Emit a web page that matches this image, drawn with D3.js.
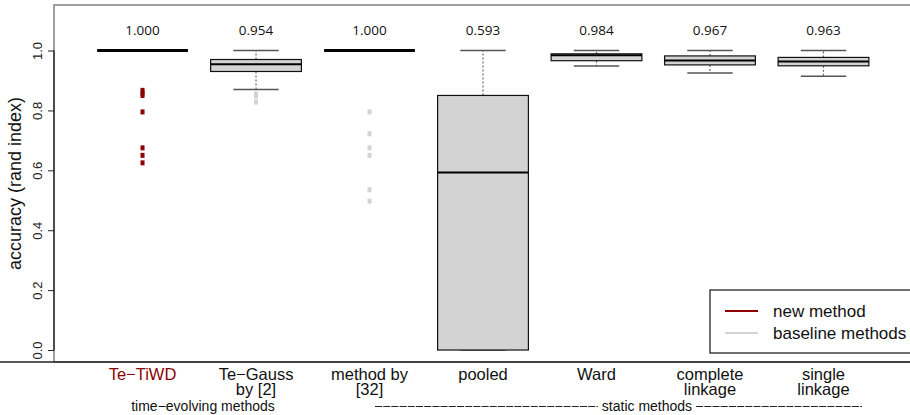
<!DOCTYPE html>
<html>
<head>
<meta charset="utf-8">
<script src="https://cdn.jsdelivr.net/npm/d3@7"></script>
<style>
  body { margin: 0; background: #fff; }
  svg { display: block; }
</style>
</head>
<body>
<svg id="chart"></svg>
<script>
// methods on the x axis, one box each
const methods = ["Te−TiWD", "Te−Gauss\nby [2]", "method by\n[32]", "pooled", "Ward", "complete\nlinkage", "single\nlinkage"];
const isNew = [true, false, false, false, false, false, false];
const medians = [1.000, 0.954, 1.000, 0.593, 0.984, 0.967, 0.963];
const q1 = [1.000, 0.930, 1.000, 0.000, 0.966, 0.952, 0.949];
const q3 = [1.000, 0.970, 1.000, 0.850, 0.989, 0.982, 0.977];
const whiskerLow = [1.000, 0.870, 1.000, 0.000, 0.948, 0.925, 0.914];
const whiskerHigh = [1.000, 1.000, 1.000, 1.000, 1.000, 1.000, 1.000];
const outliers = [
    [0.867, 0.858, 0.850, 0.795, 0.675, 0.650, 0.625],
    [0.855, 0.848, 0.828],
    [0.795, 0.722, 0.675, 0.650, 0.535, 0.497],
    [], [], [], []
];
const medianLabels = ["1.000", "0.954", "1.000", "0.593", "0.984", "0.967", "0.963"];
const yTicks = [0, 0.2, 0.4, 0.6, 0.8, 1.0];
const legendItems = ["new method", "baseline methods"];

const svgWidth = 910, svgHeight = 415;
const plot = { left: 54, right: 912, top: 5, bottom: 362 };
const newColor = "#8b0000", baseColor = "#d3d3d3";
const helv = "Liberation Sans, Arial, sans-serif";

const svg = d3.select("#chart")
    .attr("width", svgWidth)
    .attr("height", svgHeight);

const x = d3.scaleLinear()
    .domain([0.22, 7.78])
    .range([plot.left, plot.right]);

const y = d3.scaleLinear()
    .domain([-0.04, 1.152])
    .range([plot.bottom, plot.top]);

const boxW = (x(2) - x(1)) * 0.8;

// frame
svg.append("rect")
    .attr("x", plot.left).attr("y", plot.top)
    .attr("width", plot.right - plot.left).attr("height", plot.bottom - plot.top)
    .attr("fill", "none").attr("stroke", "#808080").attr("stroke-width", 1.5);

svg.append("line")
    .attr("x1", 0).attr("x2", svgWidth)
    .attr("y1", plot.bottom).attr("y2", plot.bottom)
    .attr("stroke", "#222").attr("stroke-width", 1.3);

// y axis
const yAxis = d3.axisLeft(y).tickValues(yTicks).tickSize(6).tickFormat(d3.format(".1f"));
const yg = svg.append("g")
    .attr("transform", "translate(" + plot.left + ",0)")
    .call(yAxis);
yg.select(".domain").remove();
yg.append("line")
    .attr("x1", 0).attr("x2", 0)
    .attr("y1", y(0)).attr("y2", y(1))
    .attr("stroke", "#222").attr("stroke-width", 1.3);
yg.selectAll(".tick line").attr("stroke", "#222").attr("stroke-width", 1);
yg.selectAll(".tick text")
    .attr("font-family", helv)
    .attr("font-size", 13)
    .attr("fill", "#222")
    .attr("x", null).attr("dy", null)
    .attr("text-anchor", "middle")
    .attr("transform", "translate(-12,0) rotate(-90)");

svg.append("text")
    .attr("transform", "translate(21," + ((plot.top + plot.bottom) / 2) + ") rotate(-90)")
    .attr("text-anchor", "middle")
    .attr("font-family", helv)
    .attr("font-size", 18)
    .attr("fill", "#111")
    .text("accuracy (rand index)");

// boxes
const boxes = svg.append("g");
methods.forEach(function(m, i) {
    const cx = x(i + 1);
    const g = boxes.append("g");
    const collapsed = q1[i] === q3[i];

    if (!collapsed) {
        // whiskers
        g.append("line")
            .attr("x1", cx).attr("x2", cx)
            .attr("y1", y(q3[i])).attr("y2", y(whiskerHigh[i]))
            .attr("stroke", "#666").attr("stroke-width", 1.2).attr("stroke-dasharray", "2,2");
        g.append("line")
            .attr("x1", cx).attr("x2", cx)
            .attr("y1", y(q1[i])).attr("y2", y(whiskerLow[i]))
            .attr("stroke", "#666").attr("stroke-width", 1.2).attr("stroke-dasharray", "2,2");
        [whiskerHigh[i], whiskerLow[i]].forEach(function(v) {
            g.append("line")
                .attr("x1", cx - boxW / 4).attr("x2", cx + boxW / 4)
                .attr("y1", y(v)).attr("y2", y(v))
                .attr("stroke", "#555").attr("stroke-width", 1.5);
        });
        g.append("rect")
            .attr("x", cx - boxW / 2).attr("y", y(q3[i]))
            .attr("width", boxW).attr("height", y(q1[i]) - y(q3[i]))
            .attr("fill", baseColor).attr("stroke", "#111").attr("stroke-width", 1.2);
    }

    g.append("line")
        .attr("x1", cx - boxW / 2).attr("x2", cx + boxW / 2)
        .attr("y1", y(medians[i])).attr("y2", y(medians[i]))
        .attr("stroke", "#000").attr("stroke-width", collapsed ? 3 : 2);

    g.selectAll("rect.out")
        .data(outliers[i])
        .enter().append("rect")
        .attr("class", "out")
        .attr("x", cx - 2).attr("y", function(d) { return y(d) - 2.5; })
        .attr("width", 4).attr("height", 5)
        .attr("fill", isNew[i] ? newColor : baseColor);

    svg.append("text")
        .attr("x", cx).attr("y", 35)
        .attr("text-anchor", "middle")
        .attr("font-family", "Open Sans, Noto Sans, sans-serif")
        .attr("font-size", 13.5)
        .attr("fill", "#111")
        .text(medianLabels[i]);

    // category label, possibly two lines
    const lines = m.split("\n");
    const t = svg.append("text")
        .attr("text-anchor", "middle")
        .attr("font-family", helv)
        .attr("font-size", 16.5)
        .attr("fill", isNew[i] ? newColor : "#111");
    lines.forEach(function(l, k) {
        t.append("tspan").attr("x", cx).attr("y", 380 + k * 15).text(l);
    });
});

// group labels under the axis
svg.append("text")
    .attr("x", 203).attr("y", 411)
    .attr("text-anchor", "middle")
    .attr("font-family", helv).attr("font-size", 14)
    .attr("fill", "#111")
    .text("time−evolving methods");

const staticText = svg.append("text")
    .attr("x", 647).attr("y", 411)
    .attr("text-anchor", "middle")
    .attr("font-family", helv).attr("font-size", 14)
    .attr("fill", "#111")
    .text("static methods");
const sw = staticText.node().getComputedTextLength();
[[375, 647 - sw / 2 - 4], [647 + sw / 2 + 4, 862]].forEach(function(seg) {
    svg.append("line")
        .attr("x1", seg[0]).attr("x2", seg[1])
        .attr("y1", 406.5).attr("y2", 406.5)
        .attr("stroke", "#222").attr("stroke-width", 1)
        .attr("stroke-dasharray", "7,1.2");
});

// legend
const legend = svg.append("g").attr("transform", "translate(710,290)");
legend.append("rect")
    .attr("width", 210).attr("height", 63)
    .attr("fill", "#fff").attr("stroke", "#111").attr("stroke-width", 1.2);
legendItems.forEach(function(name, k) {
    legend.append("line")
        .attr("x1", 15).attr("x2", 48)
        .attr("y1", 21 + k * 22).attr("y2", 21 + k * 22)
        .attr("stroke", k === 0 ? newColor : baseColor).attr("stroke-width", 2);
    legend.append("text")
        .attr("x", 63).attr("y", 27 + k * 22)
        .attr("font-family", helv)
        .attr("font-size", 17)
        .attr("fill", "#111")
        .text(name);
});
</script>
</body>
</html>
